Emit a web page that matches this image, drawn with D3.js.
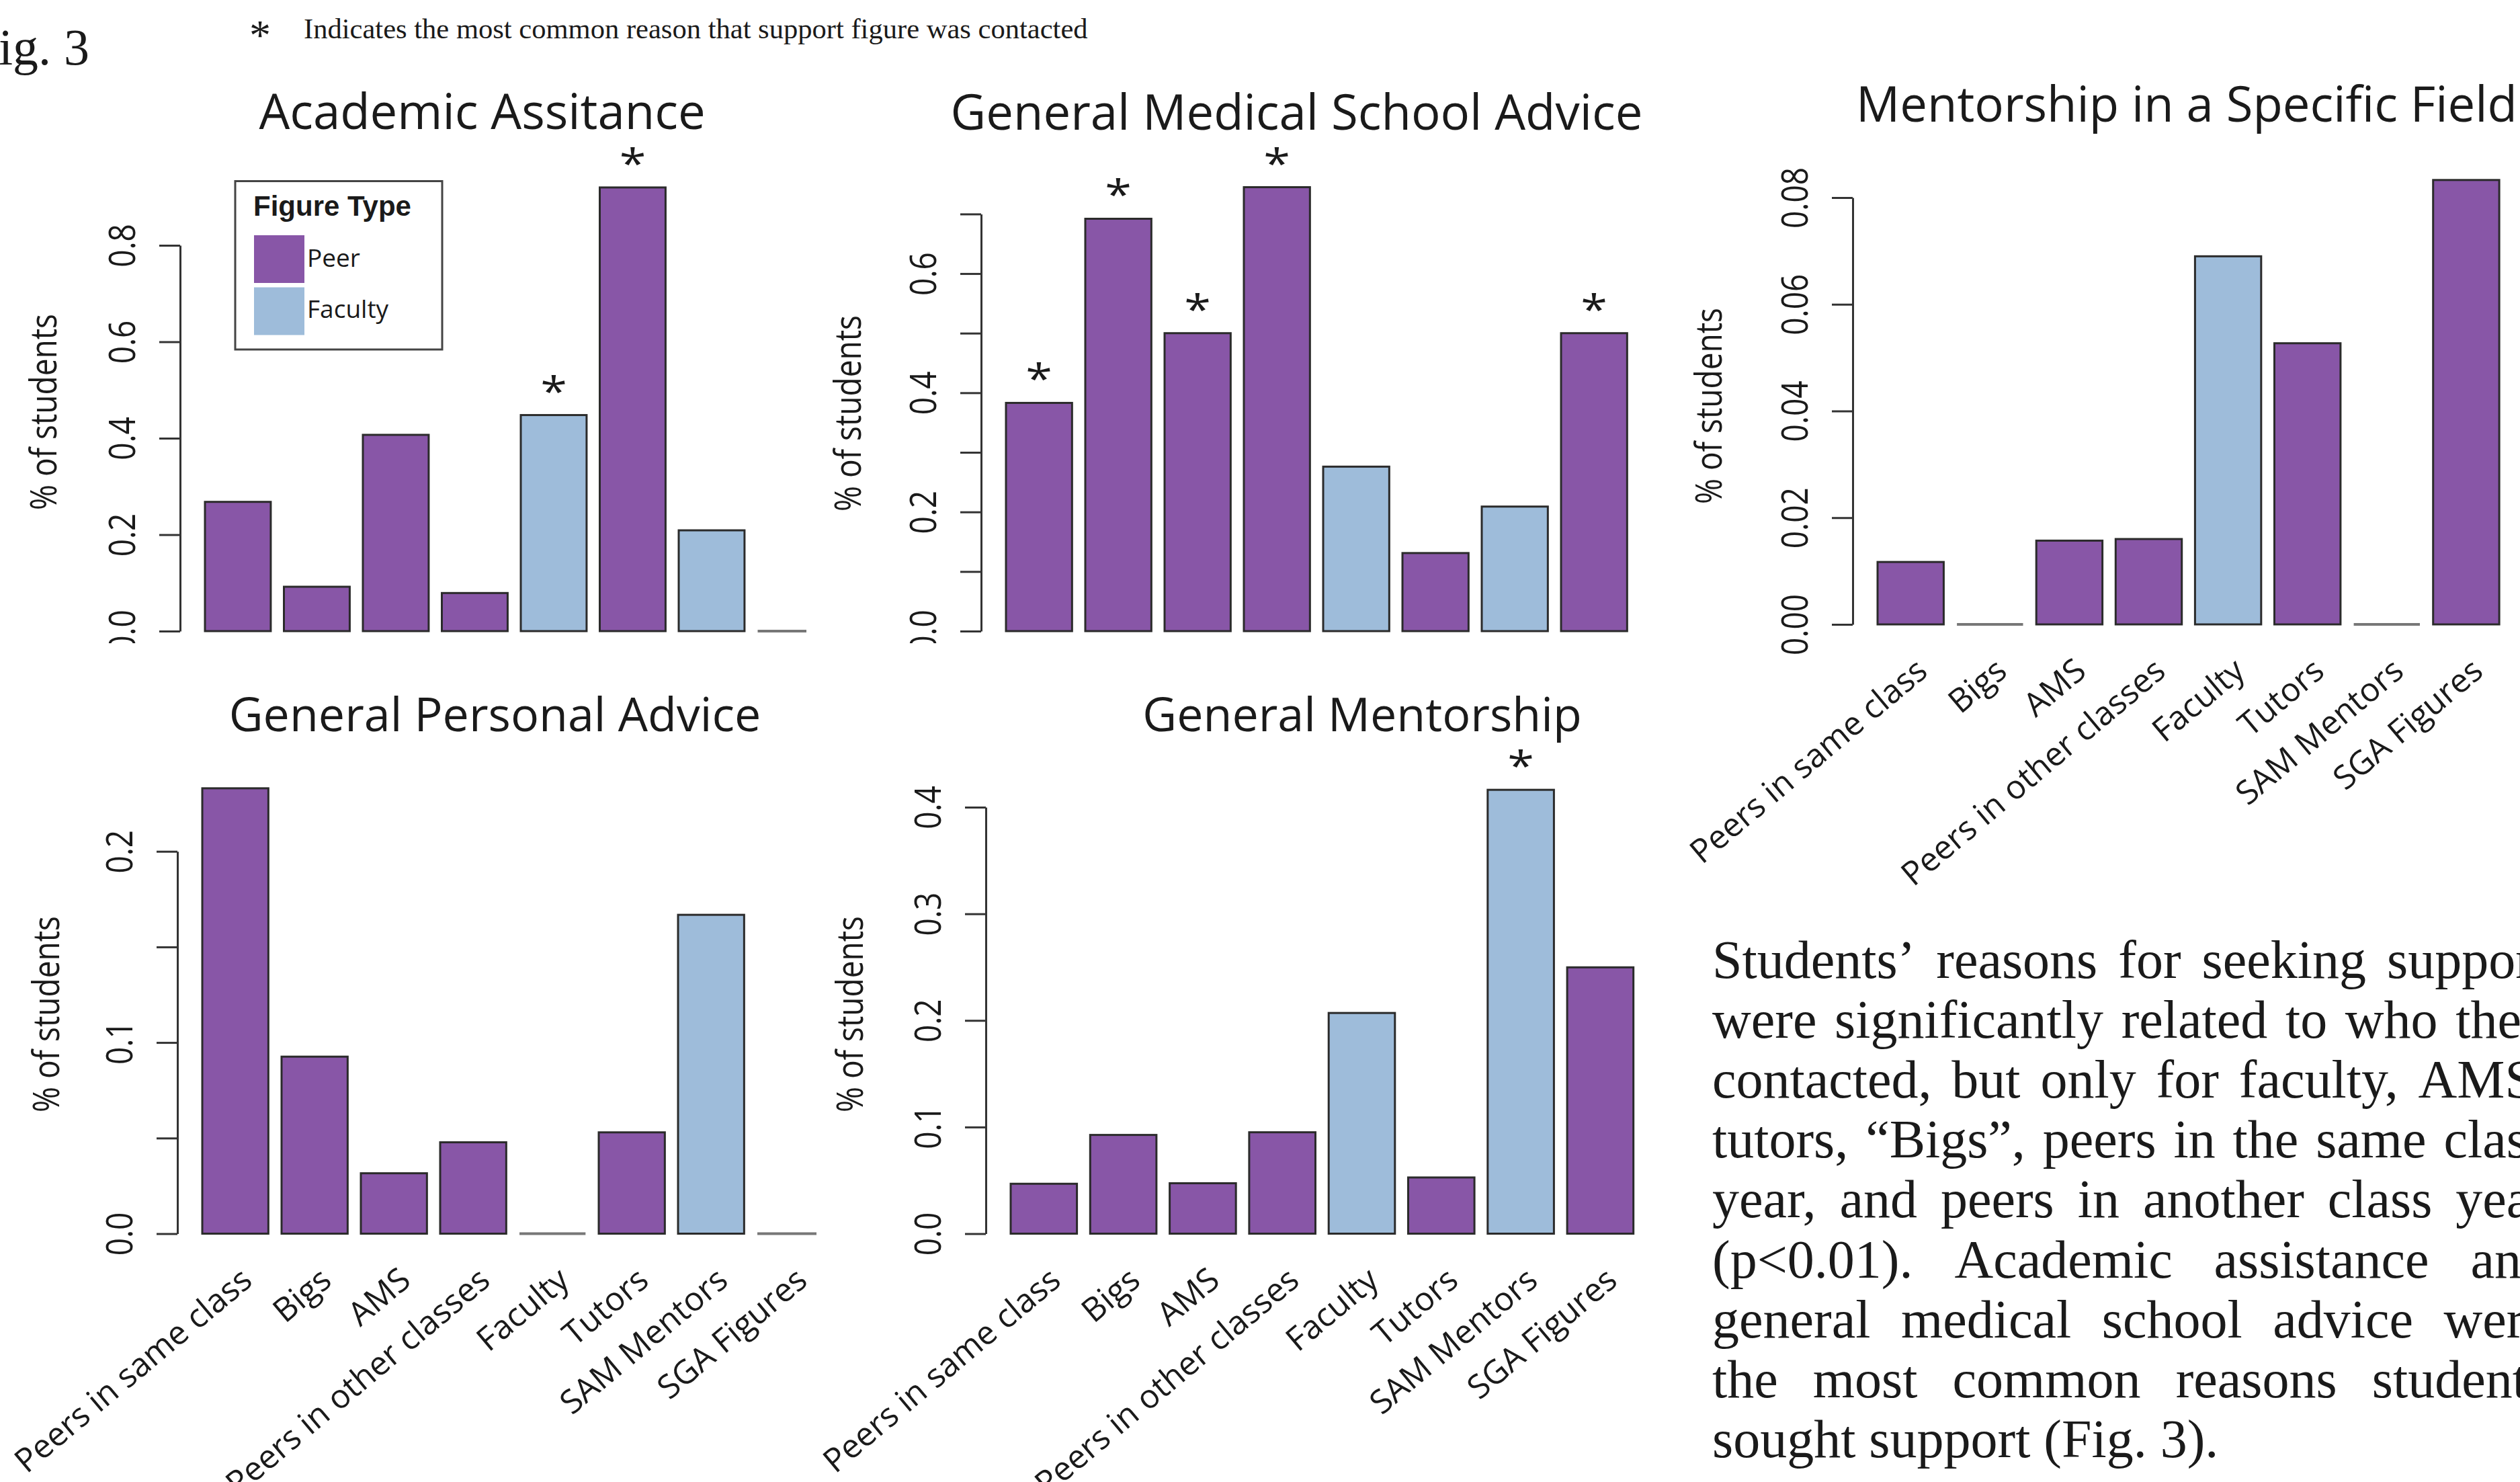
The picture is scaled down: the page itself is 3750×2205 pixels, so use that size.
<!DOCTYPE html>
<html>
<head>
<meta charset="utf-8">
<script src="https://cdn.jsdelivr.net/npm/d3@7"></script>
<style>
  body { margin: 0; background: #fff; }
  svg { display: block; }
</style>
</head>
<body>
<svg id="chart" width="3750" height="2205"></svg>
<script>
// ---- data ----
const categories = ["Peers in same class", "Bigs", "AMS", "Peers in other classes",
                    "Faculty", "Tutors", "SAM Mentors", "SGA Figures"];
const figureTypes = ["Peer", "Peer", "Peer", "Peer", "Faculty", "Peer", "Faculty", "Peer"];
const legendTypes = ["Peer", "Faculty"];

const academicValues   = [0.268, 0.092, 0.407, 0.079, 0.448, 0.920, 0.209, 0];
const medicalValues    = [0.383, 0.692, 0.500, 0.745, 0.276, 0.131, 0.209, 0.500];
const specificValues   = [0.0117, 0, 0.0157, 0.0160, 0.0690, 0.0527, 0, 0.0833];
const personalValues   = [0.233, 0.0926, 0.0316, 0.0478, 0, 0.053, 0.1668, 0];
const mentorshipValues = [0.0468, 0.0926, 0.0473, 0.0951, 0.207, 0.0527, 0.4163, 0.2498];

// index of bars marked with "*"
const academicStars   = [4, 5];
const medicalStars    = [0, 1, 2, 3, 7];
const specificStars   = [];
const personalStars   = [];
const mentorshipStars = [6];

const academicTicks   = [0, 0.2, 0.4, 0.6, 0.8];
const academicLabels  = ["0.0", "0.2", "0.4", "0.6", "0.8"];
const medicalTicks    = [0, 0.1, 0.2, 0.3, 0.4, 0.5, 0.6, 0.7];
const medicalLabels   = ["0.0", "", "0.2", "", "0.4", "", "0.6", ""];
const specificTicks   = [0, 0.02, 0.04, 0.06, 0.08];
const specificLabels  = ["0.00", "0.02", "0.04", "0.06", "0.08"];
const personalTicks   = [0, 0.05, 0.1, 0.15, 0.2];
const personalLabels  = ["0.0", "", "0.1", "", "0.2"];
const mentorshipTicks  = [0, 0.1, 0.2, 0.3, 0.4];
const mentorshipLabels = ["0.0", "0.1", "0.2", "0.3", "0.4"];

const panelTitles = ["Academic Assitance", "General Medical School Advice",
                     "Mentorship in a Specific Field", "General Personal Advice", "General Mentorship"];
const yTitle = "% of students";
const legendTitle = "Figure Type";
const figLabel = "Fig. 3";
const noteText = "Indicates the most common reason that support figure was contacted";
const paragraphLines = [
  "Students\u2019 reasons for seeking support",
  "were significantly related to who they",
  "contacted, but only for faculty, AMS,",
  "tutors, \u201cBigs\u201d, peers in the same class",
  "year, and peers in another class year",
  "(p<0.01). Academic assistance and",
  "general medical school advice were",
  "the most common reasons students",
  "sought support (Fig. 3)."
];

// ---- styling / layout ----
const colors = { Peer: "#8856a7", Faculty: "#9ebcda" };
const ink = "#1a1a1a";
const sans = "'Open Sans', sans-serif";
const serif = "'Liberation Serif', 'Times New Roman', serif";
const stretch = 1.2; // the R panels were widened horizontally

const panels = [
  { title: panelTitles[0], values: academicValues, stars: academicStars, ticks: academicTicks, labels: academicLabels,
    x0: 305, step: 117.5, base: 939, top: 365, titleX: 717.5, titleY: 192, titleSize: 72.5,
    ylabX: 63, ylabY: 613, clip: [0, 0, 1200, 957], catLabels: false, legend: true },
  { title: panelTitles[1], values: medicalValues, stars: medicalStars, ticks: medicalTicks, labels: medicalLabels,
    x0: 1497, step: 118, base: 939, top: 318.4, titleX: 1929.5, titleY: 193, titleSize: 72.5,
    ylabX: 1260, ylabY: 615, clip: [1200, 0, 1250, 957], catLabels: false },
  { title: panelTitles[2], values: specificValues, stars: specificStars, ticks: specificTicks, labels: specificLabels,
    x0: 2794, step: 118.1, base: 929, top: 294, titleX: 3254, titleY: 181, titleSize: 72.5,
    ylabX: 2541, ylabY: 604, clip: [2450, 0, 1300, 1340], catLabels: true },
  { title: panelTitles[3], values: personalValues, stars: personalStars, ticks: personalTicks, labels: personalLabels,
    x0: 301, step: 118, base: 1835.5, top: 1266.7, titleX: 736.5, titleY: 1088, titleSize: 70,
    ylabX: 67, ylabY: 1509, clip: [0, 960, 1215, 1245], catLabels: true },
  { title: panelTitles[4], values: mentorshipValues, stars: mentorshipStars, ticks: mentorshipTicks, labels: mentorshipLabels,
    x0: 1504, step: 118.3, base: 1835.5, top: 1201, titleX: 2027, titleY: 1088, titleSize: 70,
    ylabX: 1263, ylabY: 1509, clip: [1215, 960, 1235, 1245], catLabels: true }
];

const svg = d3.select("#chart");
svg.append("rect").attr("width", 3750).attr("height", 2205).attr("fill", "#fff");
const defs = svg.append("defs");

panels.forEach((p, pi) => {
  defs.append("clipPath").attr("id", "clip" + pi)
    .append("rect").attr("x", p.clip[0]).attr("y", p.clip[1]).attr("width", p.clip[2]).attr("height", p.clip[3]);
  const g = svg.append("g").attr("clip-path", "url(#clip" + pi + ")");

  const pIn = 0.2 / 1.2;
  const bw = p.step * (1 - pIn);
  const x = d3.scaleBand().domain(categories)
    .range([p.x0, p.x0 + 7 * p.step + bw]).paddingInner(pIn).paddingOuter(0);
  const y = d3.scaleLinear().domain([0, d3.max(p.ticks)]).range([p.base, p.top]);
  const axisX = p.x0 - 37;

  // title
  g.append("text").attr("x", p.titleX).attr("y", p.titleY)
    .attr("text-anchor", "middle").attr("font-family", sans).attr("font-size", p.titleSize)
    .attr("fill", ink).text(p.title);

  // axis
  const ax = g.append("g").attr("transform", "translate(" + axisX + ",0)")
    .call(d3.axisLeft(y).tickValues(p.ticks).tickSize(31).tickSizeOuter(0)
      .tickFormat((d, i) => p.labels[i]));
  ax.select(".domain").attr("stroke", "#333").attr("stroke-width", 3);
  ax.selectAll(".tick line").attr("stroke", "#333").attr("stroke-width", 3);
  ax.selectAll(".tick text")
    .attr("x", null).attr("dy", null).attr("text-anchor", "middle")
    .attr("font-family", sans).attr("font-size", 46).attr("fill", ink)
    .attr("transform", "translate(-67,0) scale(" + stretch + ",1) rotate(-90)");

  // y title
  g.append("text").attr("text-anchor", "middle")
    .attr("transform", "translate(" + (p.ylabX + 21) + "," + p.ylabY + ") scale(" + stretch + ",1) rotate(-90)")
    .attr("font-family", sans).attr("font-size", 46).attr("fill", ink).text(yTitle);

  // bars
  const rows = categories.map((c, i) => ({ c: c, v: p.values[i], t: figureTypes[i], i: i }));
  g.selectAll("rect.bar").data(rows.filter(d => d.v > 0)).enter().append("rect")
    .attr("class", "bar")
    .attr("x", d => x(d.c)).attr("width", x.bandwidth())
    .attr("y", d => y(d.v)).attr("height", d => y(0) - y(d.v))
    .attr("fill", d => colors[d.t]).attr("stroke", "#2b2b2b").attr("stroke-width", 3);
  g.selectAll("line.zero").data(rows.filter(d => d.v === 0)).enter().append("line")
    .attr("class", "zero")
    .attr("x1", d => x(d.c)).attr("x2", d => x(d.c) + x.bandwidth())
    .attr("y1", y(0)).attr("y2", y(0))
    .attr("stroke", "#777").attr("stroke-width", 4);

  // stars
  g.selectAll("text.star").data(rows.filter(d => p.stars.includes(d.i))).enter().append("text")
    .attr("class", "star").attr("text-anchor", "middle")
    .attr("transform", d => "translate(" + (x(d.c) + x.bandwidth() / 2) + "," + (y(d.v) - 48 + 34) + ") scale(" + stretch + ",1)")
    .attr("font-family", sans).attr("font-size", 60).attr("fill", ink).text("*");

  // category labels
  if (p.catLabels) {
    g.selectAll("text.cat").data(rows).enter().append("text")
      .attr("class", "cat").attr("text-anchor", "end")
      .attr("transform", d => "translate(" + (x(d.c) + x.bandwidth() / 2 + 28) + "," + (p.base + 74) + ") rotate(-40)")
      .attr("font-family", sans).attr("font-size", 49).attr("fill", ink).text(d => d.c);
  }

  // legend
  if (p.legend) {
    const lg = g.append("g");
    lg.append("rect").attr("x", 350).attr("y", 269.5).attr("width", 308).attr("height", 250.5)
      .attr("fill", "#fff").attr("stroke", "#444").attr("stroke-width", 3);
    lg.append("text").attr("x", 377).attr("y", 321)
      .attr("font-family", "'Liberation Sans', Arial, sans-serif").attr("font-weight", "bold")
      .attr("font-size", 42).attr("fill", ink).text(legendTitle);
    legendTypes.forEach((t, i) => {
      lg.append("rect").attr("x", 378).attr("y", 350 + i * 77.5).attr("width", 75).attr("height", 71)
        .attr("fill", colors[t]);
      lg.append("text").attr("x", 457).attr("y", 397 + i * 76)
        .attr("font-family", sans).attr("font-size", 37).attr("fill", ink).text(t);
    });
  }
});

// ---- page text around the figure ----
svg.append("text").attr("x", 133).attr("y", 96).attr("text-anchor", "end")
  .attr("font-family", serif).attr("font-size", 76).attr("fill", ink).text(figLabel);

svg.append("text").attr("x", 387).attr("y", 74).attr("text-anchor", "middle")
  .attr("font-family", serif).attr("font-size", 64).attr("fill", ink).text("*");

const note = svg.append("text").attr("x", 452).attr("y", 57)
  .attr("font-family", serif).attr("font-size", 44).attr("fill", ink).text(noteText);
const noteW = note.node().getComputedTextLength();
note.attr("font-size", 44 * 1167 / noteW);

// justified paragraph
const paraLeft = 2548, paraRight = 3792, paraTop = 1455, paraLead = 89.1, paraSize = 80;
paragraphLines.forEach((line, li) => {
  const words = line.split(" ");
  const t = svg.append("text").attr("y", paraTop + li * paraLead)
    .attr("font-family", serif).attr("font-size", paraSize).attr("fill", ink);
  const spans = words.map(w => t.append("tspan").text(w));
  const widths = spans.map(s => s.node().getComputedTextLength());
  const last = li === paragraphLines.length - 1;
  const gap = last ? paraSize * 0.25 : (paraRight - paraLeft - d3.sum(widths)) / (words.length - 1);
  let cx = paraLeft;
  spans.forEach((s, i) => { s.attr("x", cx); cx += widths[i] + gap; });
});
</script>
</body>
</html>
